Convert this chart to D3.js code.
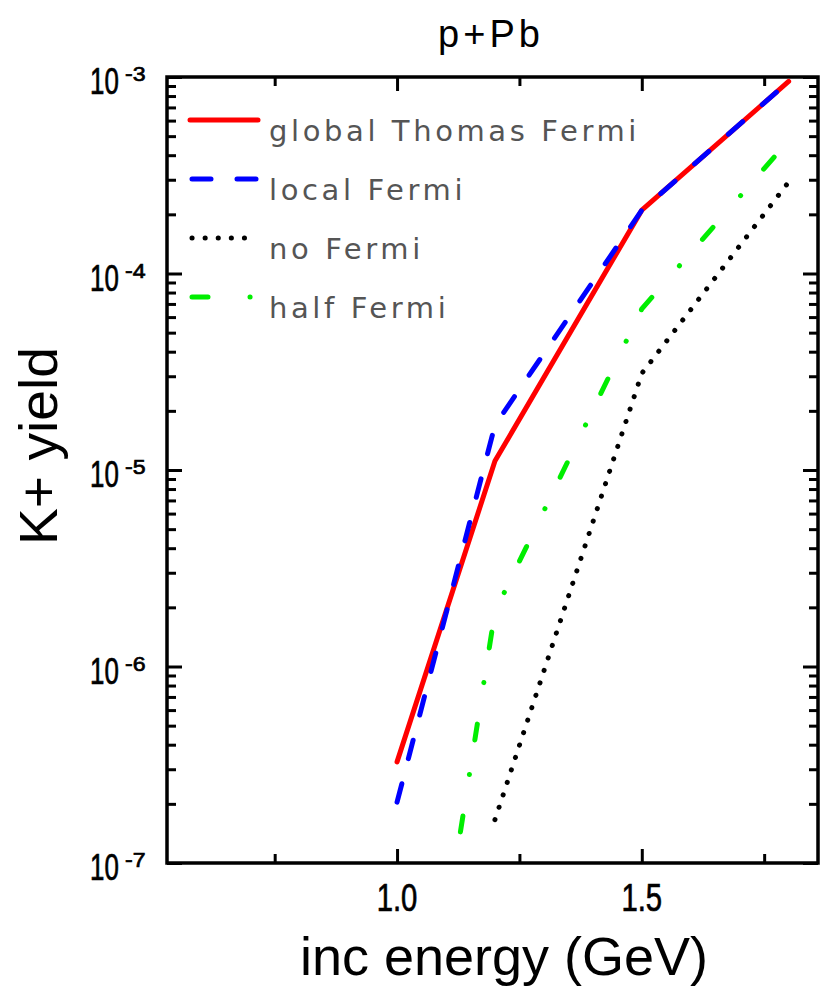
<!doctype html>
<html>
<head>
<meta charset="utf-8">
<style>
  body { margin: 0; background: #fff; }
  svg { display: block; }
  .frame { fill: none; stroke: #000; stroke-width: 3.5; }
  .tick line { stroke: #000; stroke-width: 3; }
  .domain { display: none; }
  .lbl { font-family: "Liberation Sans", Arial, sans-serif; fill: #000; }
  .num { stroke: #000; stroke-width: 0.7; }
  .leg { font-family: "DejaVu Sans", sans-serif; fill: #555; font-size: 29px; letter-spacing: 3.6px; }
  .curve { fill: none; stroke-width: 5; stroke-linecap: round; stroke-linejoin: round; }
</style>
<script src="https://d3js.org/d3.v7.min.js"></script>
</head>
<body>
<svg width="821" height="987" id="chart"></svg>
<script>
// values
var energyGlobal = [1.0, 1.2, 1.5, 1.8];
var yieldGlobal  = [3.27e-7, 1.11e-5, 2.1e-4, 9.5e-4];

var energyLocal = [1.0, 1.2, 1.5, 1.8];
var yieldLocal  = [2.04e-7, 1.69e-5, 2.1e-4, 9.5e-4];

var energyNo = [1.2, 1.5, 1.8];
var yieldNo  = [1.66e-7, 3.1e-5, 2.92e-4];

var energyHalf = [1.1, 1.2, 1.5, 1.8];
var yieldHalf  = [4.9e-8, 1.9e-6, 6.6e-5, 4.75e-4];

var xMajor = [1.0, 1.5];
var xMinor = [0.75, 1.25, 1.75];
var xLabels = ["1.0", "1.5"];
var yDecades = [1e-7, 1e-6, 1e-5, 1e-4, 1e-3];
var yExponents = ["-7", "-6", "-5", "-4", "-3"];

var legendNames = ["global Thomas Fermi", "local Fermi", "no Fermi", "half Fermi"];

var svg = d3.select("#chart");
var pLeft = 167, pRight = 818, pTop = 77, pBottom = 863;

var x = d3.scaleLinear().domain([0.53, 1.86]).range([pLeft, pRight]);
var y = d3.scaleLog().domain([1e-7, 1e-3]).range([pBottom, pTop]);

svg.append("defs").append("clipPath").attr("id", "clip")
   .append("rect")
   .attr("x", pLeft).attr("y", pTop)
   .attr("width", pRight - pLeft).attr("height", pBottom - pTop);

// ticks, all pointing inward
var yMinor = y.ticks().filter(function(d) {
    return yDecades.indexOf(d) < 0;
});

function addAxis(gen, tx, ty) {
    svg.append("g")
       .attr("transform", "translate(" + tx + "," + ty + ")")
       .call(gen.tickFormat(""))
       .selectAll("text").remove();
}
addAxis(d3.axisBottom(x).tickValues(xMajor).tickSize(-14), 0, pBottom);
addAxis(d3.axisBottom(x).tickValues(xMinor).tickSize(-9), 0, pBottom);
addAxis(d3.axisTop(x).tickValues(xMajor).tickSize(-14), 0, pTop);
addAxis(d3.axisTop(x).tickValues(xMinor).tickSize(-9), 0, pTop);
addAxis(d3.axisLeft(y).tickValues(yDecades).tickSize(-15), pLeft, 0);
addAxis(d3.axisLeft(y).tickValues(yMinor).tickSize(-9), pLeft, 0);
addAxis(d3.axisRight(y).tickValues(yDecades).tickSize(-15), pRight, 0);
addAxis(d3.axisRight(y).tickValues(yMinor).tickSize(-9), pRight, 0);

svg.append("rect").attr("class", "frame")
   .attr("x", pLeft).attr("y", pTop)
   .attr("width", pRight - pLeft).attr("height", pBottom - pTop);

// tick labels (the original font is condensed, so squeeze horizontally)
xMajor.forEach(function(v, i) {
    svg.append("text").attr("class", "lbl num")
       .attr("transform", "translate(" + x(v) + ",911) scale(0.77,1)")
       .attr("text-anchor", "middle")
       .attr("font-size", 38)
       .text(xLabels[i]);
});

yDecades.forEach(function(v, i) {
    svg.append("text").attr("class", "lbl num")
       .attr("transform", "translate(90," + (y(v) + 17) + ") scale(0.7,1)")
       .attr("font-size", 37)
       .text("10");
    svg.append("text").attr("class", "lbl num")
       .attr("transform", "translate(125," + (y(v) + 4) + ") scale(1.1,1)")
       .attr("font-size", 21)
       .text(yExponents[i]);
});

// title and axis titles
svg.append("text").attr("class", "lbl")
   .attr("x", 489).attr("y", 47)
   .attr("text-anchor", "middle")
   .attr("font-size", 38)
   .attr("textLength", 102).attr("lengthAdjust", "spacing")
   .text("p+Pb");

svg.append("text").attr("class", "lbl")
   .attr("x", 300).attr("y", 975)
   .attr("font-size", 54)
   .attr("textLength", 408).attr("lengthAdjust", "spacingAndGlyphs")
   .text("inc energy (GeV)");

svg.append("text").attr("class", "lbl")
   .attr("transform", "translate(57,545) rotate(-90)")
   .attr("font-size", 53)
   .attr("textLength", 198).attr("lengthAdjust", "spacingAndGlyphs")
   .text("K+  yield");

// curves
var line = d3.line()
    .x(function(d) { return x(d[0]); })
    .y(function(d) { return y(d[1]); });

var series = [
    { e: energyGlobal, v: yieldGlobal, color: "#ff0000", dash: null },
    { e: energyLocal,  v: yieldLocal,  color: "#0000ff", dash: "19,26" },
    { e: energyNo,     v: yieldNo,     color: "#000000", dash: "0.1,13" },
    { e: energyHalf,   v: yieldHalf,   color: "#00ee00", dash: "16,42,0.1,35" }
];

var plot = svg.append("g").attr("clip-path", "url(#clip)");
// red first so the blue dashes sit on top of it
series.forEach(function(s) {
    plot.append("path").attr("class", "curve")
        .datum(d3.zip(s.e, s.v))
        .attr("d", line)
        .attr("stroke", s.color)
        .attr("stroke-dasharray", s.dash);
});

// legend
var legY = [120, 179, 238, 297];
var legSamples = [[190, 258], [192, 260], [192, 256], [192, 256]];
series.forEach(function(s, i) {
    svg.append("line").attr("class", "curve")
       .attr("x1", legSamples[i][0]).attr("x2", legSamples[i][1])
       .attr("y1", legY[i]).attr("y2", legY[i])
       .attr("stroke", s.color)
       .attr("stroke-dasharray", s.dash);
    svg.append("text").attr("class", "leg")
       .attr("x", 269).attr("y", legY[i] + 21)
       .text(legendNames[i]);
});
</script>
</body>
</html>
